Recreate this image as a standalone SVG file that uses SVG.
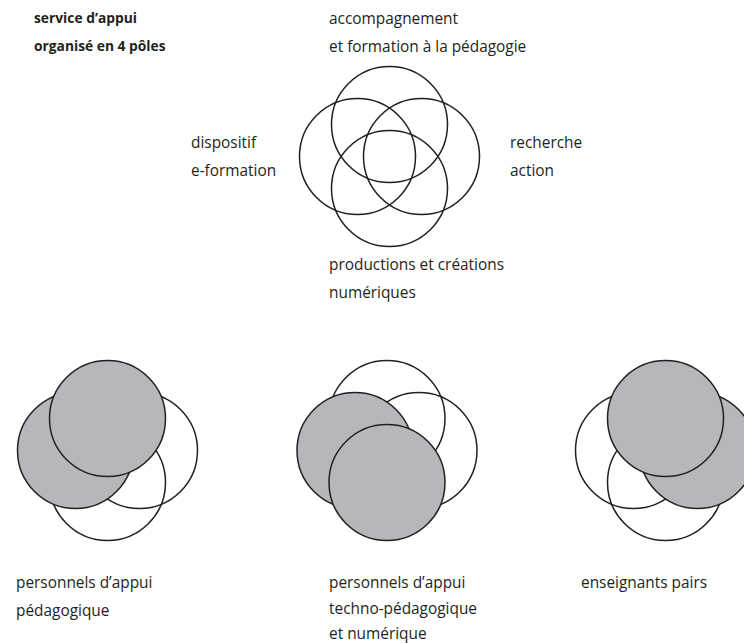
<svg xmlns="http://www.w3.org/2000/svg" width="744" height="643" viewBox="0 0 744 643">
<style>
.c{fill:none;stroke:#231f20;stroke-width:1.5}
.g{fill:#b6b7ba;stroke:#231f20;stroke-width:1.5}
text{font-family:"Open Sans","Noto Sans","DejaVu Sans",sans-serif;font-size:15.4px;fill:#231f20}
.b{font-weight:bold;font-size:13.8px}
</style>
<rect width="744" height="643" fill="#ffffff"/>
<g id="title">
<text class="b" x="34" y="23">service d’appui</text>
<text class="b" x="34" y="51">organisé en 4 pôles</text>
</g>
<g id="poles">
<circle class="c" cx="389.5" cy="124.5" r="58"/>
<circle class="c" cx="357.5" cy="156.5" r="58"/>
<circle class="c" cx="421.5" cy="156.5" r="58"/>
<circle class="c" cx="389.5" cy="188.5" r="58"/>
</g>
<g id="label-accompagnement">
<text x="329" y="23.5">accompagnement</text>
<text x="329" y="51.5">et formation à la pédagogie</text>
</g>
<g id="label-dispositif">
<text x="191" y="148">dispositif</text>
<text x="191" y="176">e-formation</text>
</g>
<g id="label-recherche">
<text x="510" y="148">recherche</text>
<text x="510" y="176">action</text>
</g>
<g id="label-productions">
<text x="329" y="270">productions et créations</text>
<text x="329" y="298">numériques</text>
</g>
<g id="group-pedagogique">
<circle class="c" cx="139.5" cy="450.5" r="58"/>
<circle class="c" cx="107.5" cy="482.5" r="58"/>
<circle class="g" cx="75.5" cy="450.5" r="58"/>
<circle class="g" cx="107.5" cy="418.5" r="58"/>
<text x="16" y="588">personnels d’appui</text>
<text x="16" y="615.5">pédagogique</text>
</g>
<g id="group-techno">
<circle class="c" cx="387" cy="418.5" r="58"/>
<circle class="c" cx="419" cy="450.5" r="58"/>
<circle class="g" cx="355" cy="450.5" r="58"/>
<circle class="g" cx="387" cy="482.5" r="58"/>
<text x="329" y="588">personnels d’appui</text>
<text x="329" y="614">techno-pédagogique</text>
<text x="329" y="638.5">et numérique</text>
</g>
<g id="group-enseignants">
<circle class="c" cx="633.5" cy="450.5" r="58"/>
<circle class="c" cx="665.5" cy="482.5" r="58"/>
<circle class="g" cx="697.5" cy="450.5" r="58"/>
<circle class="g" cx="665.5" cy="418.5" r="58"/>
<text x="581" y="588">enseignants pairs</text>
</g>
</svg>
